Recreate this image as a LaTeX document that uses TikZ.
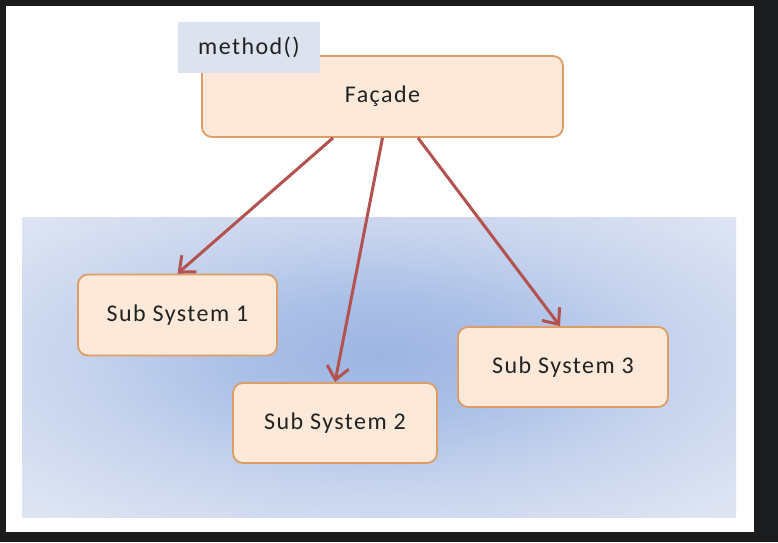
\documentclass[tikz,border=0pt]{standalone}
\usepackage{fontspec}
\setmainfont{Carlito}[LetterSpace=6]
\usetikzlibrary{arrows.meta}
\definecolor{framecol}{HTML}{1B1C1E}
\definecolor{boxfill}{HTML}{FCE9D9}
\definecolor{boxline}{HTML}{DC9E66}
\definecolor{methfill}{HTML}{DCE3EE}
\definecolor{arrcol}{HTML}{B3524F}
\definecolor{bA}{HTML}{9DB5E2}
\definecolor{bB}{HTML}{ABC0E7}
\definecolor{bC}{HTML}{C9D5EE}
\definecolor{bD}{HTML}{DCE3F2}
\definecolor{bE}{HTML}{E6EBF6}
\definecolor{txt}{HTML}{222222}
\pgfdeclareradialshading{bgshade}{\pgfpoint{0bp}{2bp}}{color(0bp)=(bA); color(10bp)=(bB); color(22bp)=(bC); color(33bp)=(bD); color(50bp)=(bE)}
\begin{document}
\begin{tikzpicture}[x=1pt,y=-1pt,
  lbl/.style={text=txt,font=\fontsize{24}{28}\selectfont},
  obox/.style={lbl,draw=boxline,line width=1.8pt,fill=boxfill,rounded corners=10pt,inner sep=0pt},
  mbox/.style={lbl,fill=methfill,inner sep=0pt},
  arr/.style={draw=arrcol,line width=3pt,-{Straight Barb[length=13pt,width=22pt,line width=3pt]}}]
\fill[framecol] (0,0) rectangle (778,542);
\fill[white] (6,6) rectangle (754,532);
\shade[shading=bgshade] (22,217) rectangle (736,517);
\node[obox,minimum width=361,minimum height=81] (F) at (382.5,96.5) {Façade};
\node[mbox,minimum width=142,minimum height=51] (M) at (249,47.5) {method()};
\node[obox,minimum width=199,minimum height=81] (S1) at (177.5,315) {Sub System 1};
\node[obox,minimum width=204,minimum height=80] (S2) at (335,423) {Sub System 2};
\node[obox,minimum width=210,minimum height=80] (S3) at (563,367) {Sub System 3};
\draw[arr] ([xshift=-49.5pt]F.south) -- (S1.north);
\draw[arr] (F.south) -- (S2.north);
\draw[arr] ([xshift=35.5pt]F.south) -- ([xshift=-3pt]S3.north);
\end{tikzpicture}
\end{document}
